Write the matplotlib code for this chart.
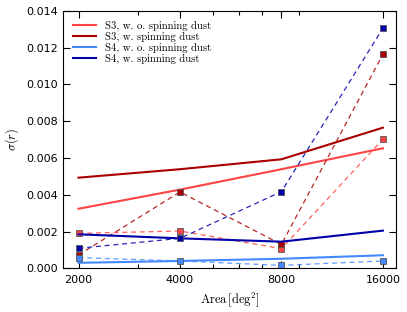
import numpy as np
import matplotlib
matplotlib.use("Agg")
import matplotlib.pyplot as plt
from matplotlib.ticker import FixedLocator, NullFormatter

plt.rcParams["mathtext.fontset"] = "cm"

area = [2000, 4000, 8000, 16000]
area_labels = ["2000", "4000", "8000", "16000"]

# fitted curves (solid)
fit_s3_wo = [0.00324, 0.00428, 0.00539, 0.00653]
fit_s3_w = [0.00493, 0.00539, 0.00593, 0.00765]
fit_s4_wo = [0.00030, 0.00040, 0.00052, 0.00071]
fit_s4_w = [0.00185, 0.00163, 0.00145, 0.00205]

# measured points (dashed + squares)
pts_s3_wo = [0.00190, 0.00203, 0.00107, 0.00702]
pts_s3_w = [0.00073, 0.00415, 0.00130, 0.01164]
pts_s4_wo = [0.00058, 0.00040, 0.00016, 0.00040]
pts_s4_w = [0.00109, 0.00163, 0.00417, 0.01306]

labels = ["S3, w. o. spinning dust",
          "S3, w. spinning dust",
          "S4, w. o. spinning dust",
          "S4, w. spinning dust"]
colors = ["#ff4444", "#aa0000", "#4488ff", "#0000aa"]
fits = [fit_s3_wo, fit_s3_w, fit_s4_wo, fit_s4_w]
pts = [pts_s3_wo, pts_s3_w, pts_s4_wo, pts_s4_w]

fig = plt.figure(figsize=(4.07, 3.12), dpi=100)
ax = fig.add_axes([0.155, 0.14, 0.818, 0.825])

for f, p, c, lab in zip(fits, pts, colors, labels):
    ax.plot(area, f, "-", color=c, lw=1.5, label=lab)
    ax.plot(area, p, "--", color=c, lw=0.9, alpha=0.85, dashes=(4, 3))
    ax.plot(area, p, "s", color=c, ms=4.5, mec="#555555", mew=0.6)

ax.set_xscale("log")
ax.set_xlim(1800, 17500)
ax.set_ylim(0, 0.014)
ax.xaxis.set_major_locator(FixedLocator(area))
ax.set_xticklabels(area_labels)
ax.xaxis.set_minor_locator(FixedLocator([3000, 5000, 6000, 7000, 9000]))
ax.xaxis.set_minor_formatter(NullFormatter())
ax.set_yticks(np.arange(0, 0.0141, 0.002))
ax.set_yticklabels(["%.3f" % v for v in np.arange(0, 0.0141, 0.002)])

ax.tick_params(which="both", direction="in", top=True, right=True, labelsize=8)
ax.tick_params(which="major", length=5, width=0.8)
ax.tick_params(which="minor", length=3, width=0.8)
ax.tick_params(axis="x", pad=5)

ax.set_xlabel(r"$\mathrm{Area}\,[\mathrm{deg}^2]$", fontsize=9)
ax.set_ylabel(r"$\sigma(r)$", fontsize=9)

ax.legend(loc="upper left", frameon=False, prop={"family": "cmr10", "size": 7.7},
          handlelength=2.2, labelspacing=0.08, borderaxespad=0.5,
          handletextpad=0.8)

fig.savefig("out.png", dpi=100)
